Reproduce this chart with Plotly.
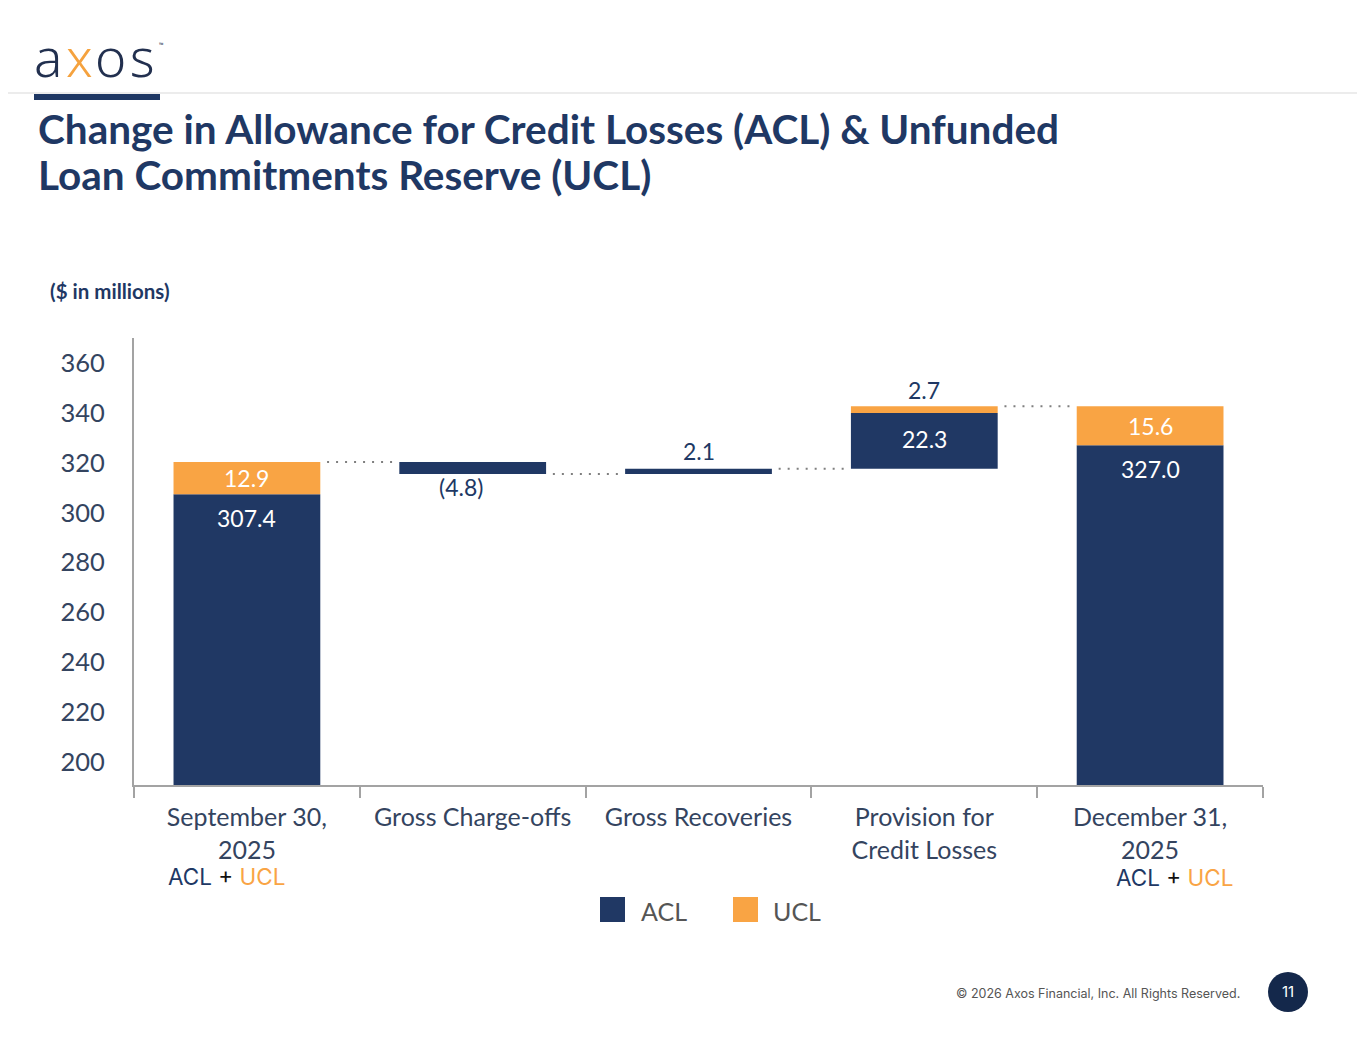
import plotly.graph_objects as go

# ---------------- data ----------------
categories = ["September 30,<br>2025", "Gross Charge-offs", "Gross Recoveries",
              "Provision for<br>Credit Losses", "December 31,<br>2025"]
acl_values = [307.4, -4.8, 2.1, 22.3, 327.0]   # ACL movement (totals for first/last)
ucl_values = [12.9, 0.0, 0.0, 2.7, 15.6]       # UCL movement (totals for first/last)
is_total = [True, False, False, False, True]
y_ticks = [200, 220, 240, 260, 280, 300, 320, 340, 360]

NAVY = "#203864"
ORANGE = "#F9A444"
TEXT = "#34445F"
AXIS = "#A3A3A3"

# page geometry helpers (body margin offset)
OFF = 8
W, H = 1365 - 2 * OFF, 1055 - 2 * OFF


def px(x):
    return (x - OFF) / W


def py(y):
    return 1 - (y - OFF) / H


def fmt(v):
    return f"({abs(v):.1f})" if v < 0 else f"{v:.1f}"


# waterfall bases
xs = list(range(len(categories)))
acl_base, acl_height, ucl_base, ucl_height = [], [], [], []
levels = []
level = 0.0
for a, u, tot in zip(acl_values, ucl_values, is_total):
    if tot:
        acl_base.append(0.0)
        acl_height.append(a)
        ucl_base.append(a)
        ucl_height.append(u)
        level = a + u
    else:
        if a < 0:
            acl_base.append(level + a)
            acl_height.append(-a)
        else:
            acl_base.append(level)
            acl_height.append(a)
        level = level + a
        ucl_base.append(level)
        ucl_height.append(u)
        level = level + u
    levels.append(level)

fig = go.Figure()
BW = 0.65
fig.add_trace(go.Bar(x=xs, y=acl_height, base=acl_base, width=BW, marker_color=NAVY,
                     marker_line_width=0, name="ACL", showlegend=False, hoverinfo="skip"))
fig.add_trace(go.Bar(x=xs, y=ucl_height, base=ucl_base, width=BW, marker_color=ORANGE,
                     marker_line_width=0, name="UCL", showlegend=False, hoverinfo="skip"))

# dotted connectors
for i in range(len(xs) - 1):
    fig.add_trace(go.Scatter(x=[xs[i] + BW / 2 + 0.03, xs[i + 1] - BW / 2 - 0.03],
                             y=[levels[i], levels[i]], mode="lines",
                             line=dict(color="#7F7F7F", width=2, dash="2px,7px"),
                             showlegend=False, hoverinfo="skip"))

ann = []
lab_font = dict(family="Lato, Noto Sans", size=23)
for i in xs:
    a, u = acl_values[i], ucl_values[i]
    if is_total[i]:
        ann.append(dict(x=i, y=acl_base[i] + acl_height[i], text=fmt(a), showarrow=False,
                        yanchor="top", yshift=-8, font=dict(lab_font, color="white")))
        ann.append(dict(x=i, y=ucl_base[i] + ucl_height[i] / 2, text=fmt(u), showarrow=False,
                        yanchor="middle", font=dict(lab_font, color="white")))
    else:
        if abs(a) > 8:
            ann.append(dict(x=i, y=acl_base[i] + acl_height[i] / 2, text=fmt(a), showarrow=False,
                            yanchor="middle", yshift=2, font=dict(lab_font, color="white")))
        elif a < 0:
            ann.append(dict(x=i, y=acl_base[i], text=fmt(a), showarrow=False, xshift=-12,
                            yanchor="top", yshift=3, font=dict(lab_font, color=NAVY)))
        else:
            ann.append(dict(x=i, y=acl_base[i] + acl_height[i], text=fmt(a), showarrow=False,
                            yanchor="bottom", yshift=2, font=dict(lab_font, color=NAVY)))
        if u > 0:
            ann.append(dict(x=i, y=ucl_base[i] + ucl_height[i], text=fmt(u), showarrow=False,
                            yanchor="bottom", yshift=0, font=dict(lab_font, color=NAVY)))

# ACL + UCL notes under first/last categories
note = ("<span style='color:#203864'>ACL</span> <span style='color:#111111'>+</span> "
        "<span style='color:#F9A444'>UCL</span>")
for i, shift, yy in [(0, -20, 876), (4, 24, 877)]:
    ann.append(dict(x=i, xref="x", y=py(yy), yref="paper", text=note, showarrow=False,
                    xshift=shift, yanchor="middle",
                    font=dict(family="Inter, Noto Sans", size=22.5, color=NAVY)))

# title / header texts
for txt, yy in [("Change in Allowance for Credit Losses (ACL) &amp; Unfunded", 128),
                ("Loan Commitments Reserve (UCL)", 175)]:
    ann.append(dict(x=px(36), y=py(yy), xref="paper", yref="paper", xanchor="left", yanchor="middle",
                    text="<b>" + txt + "</b>", align="left", showarrow=False,
                    font=dict(family="Lato", size=40.5, color="#1F3864")))
ann.append(dict(x=px(48), y=py(291), xref="paper", yref="paper", xanchor="left", yanchor="middle",
                text="<b>($ in millions)</b>", showarrow=False,
                font=dict(family="Lato", size=20.5, color="#1F3864")))
ann.append(dict(x=px(32), y=py(56), xref="paper", yref="paper", xanchor="left", yanchor="middle",
                text="<span style='color:#22304F;letter-spacing:3.5px'>a</span>"
                     "<span style='color:#F5A23E;letter-spacing:3.5px'>x</span>"
                     "<span style='color:#22304F;letter-spacing:3.5px'>os</span>",
                showarrow=False, font=dict(family="Noto Sans", size=53, weight=300)))
ann.append(dict(x=px(157), y=py(45), xref="paper", yref="paper", xanchor="left", yanchor="middle",
                text="™", showarrow=False, font=dict(family="Noto Sans", size=6, color="#22304F")))
# legend
ann.append(dict(x=px(639), y=py(911), xref="paper", yref="paper", xanchor="left", yanchor="middle",
                text="ACL", showarrow=False, font=dict(family="Lato", size=25, color="#555555")))
ann.append(dict(x=px(771), y=py(911), xref="paper", yref="paper", xanchor="left", yanchor="middle",
                text="UCL", showarrow=False, font=dict(family="Lato", size=25, color="#555555")))
# footer
ann.append(dict(x=px(1242), y=py(993), xref="paper", yref="paper", xanchor="right", yanchor="middle",
                text="© 2026 Axos Financial, Inc. All Rights Reserved.", showarrow=False,
                font=dict(family="Inter", size=12.5, color="#555555")))
ann.append(dict(x=px(1288), y=py(991), xref="paper", yref="paper", xanchor="center", yanchor="middle",
                text="11", showarrow=False, font=dict(family="Inter", size=15, color="white")))

shapes = [
    dict(type="line", xref="paper", yref="paper", x0=0, x1=1, y0=py(93), y1=py(93),
         line=dict(color="#D9D9D9", width=1)),
    dict(type="rect", xref="paper", yref="paper", x0=px(34), x1=px(160), y0=py(100), y1=py(94),
         fillcolor="#1F3864", line_width=0),
    dict(type="rect", xref="paper", yref="paper", x0=px(600), x1=px(625), y0=py(922), y1=py(897),
         fillcolor=NAVY, line_width=0),
    dict(type="rect", xref="paper", yref="paper", x0=px(733), x1=px(758), y0=py(922), y1=py(897),
         fillcolor=ORANGE, line_width=0),
    dict(type="circle", xref="paper", yref="paper", x0=px(1268), x1=px(1308), y0=py(1012), y1=py(972),
         fillcolor="#14284B", line_width=0),
]

fig.update_layout(
    width=W, height=H, margin=dict(l=0, r=0, t=0, b=0),
    paper_bgcolor="white", plot_bgcolor="white",
    barmode="overlay", showlegend=False,
    annotations=ann, shapes=shapes,
    xaxis=dict(domain=[px(134), px(1263)], range=[-0.5, 4.5],
               tickmode="array", tickvals=xs, ticktext=categories,
               ticks="", ticklabelstandoff=9, showgrid=False, zeroline=False,
               showline=True, linecolor=AXIS, linewidth=2,
               tickfont=dict(family="Lato", size=25, color=TEXT),
               minor=dict(tickmode="array", tickvals=[-0.5, 0.5, 1.5, 2.5, 3.5, 4.5],
                          ticks="outside", ticklen=11, tickwidth=2, tickcolor=AXIS, showgrid=False),
               fixedrange=True),
    yaxis=dict(domain=[py(785), py(338)], range=[190.8, 370.0],
               tickmode="array", tickvals=y_ticks, ticks="", ticklabelstandoff=22,
               showgrid=False, zeroline=False, showline=True, linecolor=AXIS, linewidth=2,
               tickfont=dict(family="Lato", size=25.5, color=TEXT), fixedrange=True),
    font=dict(family="Lato"),
)

fig.write_html("out.html")
